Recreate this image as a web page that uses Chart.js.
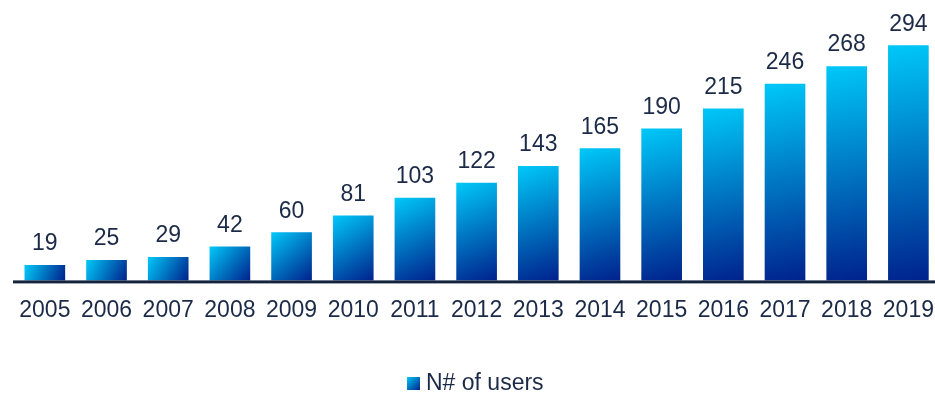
<!DOCTYPE html>
<html>
<head>
<meta charset="utf-8">
<script src="https://cdn.jsdelivr.net/npm/chart.js@4/dist/chart.umd.min.js"></script>
<style>
    html, body { margin: 0; padding: 0; background: #fff; overflow: hidden; }
    .chart-wrap { width: 950px; height: 394px; }
</style>
</head>
<body>
<div class="chart-wrap"><canvas class="usersChart" width="950" height="394"></canvas></div>
<script>
const years = ['2005', '2006', '2007', '2008', '2009', '2010', '2011', '2012', '2013', '2014', '2015', '2016', '2017', '2018', '2019'];
const users = [19, 25, 29, 42, 60, 81, 103, 122, 143, 165, 190, 215, 246, 268, 294];
const seriesName = 'N# of users';

const textColor = '#1b2a47';
const axisColor = '#14243f';
const fontFamily = "'Liberation Sans', Arial, sans-serif";
const barWidth = 40;

const usersChartCanvas = document.querySelector('.usersChart');

// each bar gets its own gradient, light cyan top-left to deep blue bottom-right
function barGradient(ctx, left, top, right, bottom) {
    const grad = ctx.createLinearGradient(left, top, right, bottom);
    grad.addColorStop(0, '#00c8f8');
    grad.addColorStop(1, '#00228c');
    return grad;
}

function barFill(context) {
    const chart = context.chart;
    const { x, y } = chart.scales;
    if (!chart.chartArea || context.type !== 'data' || !x || !y) return '#0a6fd0';
    const cx = x.getPixelForValue(context.dataIndex);
    const top = y.getPixelForValue(context.raw);
    const base = y.getPixelForValue(0);
    return barGradient(chart.ctx, cx - barWidth / 2, top, cx + barWidth / 2, base);
}

const overlayPlugin = {
    id: 'overlay',
    afterDatasetsDraw(chart) {
        const { ctx, chartArea } = chart;
        const meta = chart.getDatasetMeta(0);

        // baseline under the bars
        ctx.save();
        ctx.fillStyle = axisColor;
        ctx.fillRect(13, chartArea.bottom, chart.width - 13, 3);

        // value labels
        ctx.fillStyle = textColor;
        ctx.font = '23px ' + fontFamily;
        ctx.textAlign = 'center';
        ctx.textBaseline = 'alphabetic';
        meta.data.forEach((bar, i) => {
            ctx.fillText(String(users[i]), bar.x, bar.y - 15);
        });

        // legend
        const boxX = 407, boxY = 377, boxSize = 13;
        ctx.fillStyle = barGradient(ctx, boxX, boxY, boxX + boxSize, boxY + boxSize);
        ctx.fillRect(boxX, boxY, boxSize, boxSize);
        ctx.fillStyle = textColor;
        ctx.textAlign = 'left';
        ctx.fillText(seriesName, 426, 390);
        ctx.restore();
    }
};

new Chart(usersChartCanvas, {
    type: 'bar',
    data: {
        labels: years,
        datasets: [{
            label: seriesName,
            data: users,
            backgroundColor: barFill,
            borderWidth: 0,
            barThickness: barWidth
        }]
    },
    options: {
        responsive: false,
        animation: false,
        layout: {
            padding: { top: 1, left: 14, right: 1, bottom: 54 }
        },
        scales: {
            x: {
                grid: { display: false, drawTicks: false },
                border: { display: false },
                ticks: {
                    color: textColor,
                    font: { size: 23, family: fontFamily },
                    padding: 16,
                    maxRotation: 0,
                    autoSkip: false
                }
            },
            y: {
                display: false,
                min: 0,
                max: 350
            }
        },
        plugins: {
            legend: { display: false },
            tooltip: { enabled: false }
        }
    },
    plugins: [overlayPlugin]
});
</script>
</body>
</html>
